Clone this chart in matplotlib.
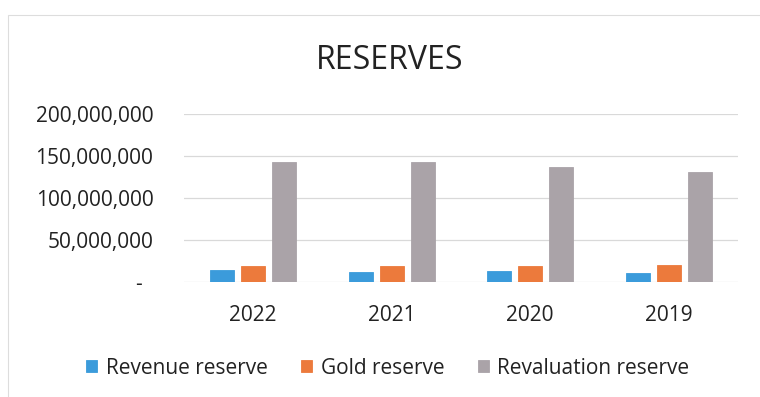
import numpy as np
import matplotlib.pyplot as plt
from matplotlib.patches import Rectangle

plt.rcParams['font.family'] = ['Open Sans', 'DejaVu Sans']

years = ['2022', '2021', '2020', '2019']
revenue = [14.5e6, 11.5e6, 12.8e6, 9.8e6]
gold = [18.8e6, 19.0e6, 19.3e6, 19.6e6]
revaluation = [142.8e6, 142.8e6, 137.0e6, 131.0e6]

series = [('Revenue reserve', revenue, '#3b9bdb'),
          ('Gold reserve', gold, '#ec7a3c'),
          ('Revaluation reserve', revaluation, '#aaa3a8')]

fig = plt.figure(figsize=(7.6, 3.97), dpi=100)
ax = fig.add_axes([0.242, 0.2904, 0.729, 0.4224])

x = np.arange(len(years))
w = 0.175
step = 0.224
for i, (name, vals, col) in enumerate(series):
    ax.bar(x + (i - 1) * step, vals, width=w, color=col, label=name,
           edgecolor=col, linewidth=0.6, zorder=3)

ax.set_xlim(-0.5, len(years) - 0.5)
ax.set_ylim(0, 200e6)
ax.set_yticks([0, 50e6, 100e6, 150e6, 200e6])
ax.yaxis.set_major_formatter(plt.FuncFormatter(
    lambda v, p: '-  ' if v == 0 else f'{int(v):,}'))
ax.set_xticks(x)
ax.set_xticklabels(years)
ax.tick_params(axis='both', length=0, labelsize=15, colors='#222222')
ax.tick_params(axis='y', pad=22)
ax.tick_params(axis='x', pad=17)
ax.grid(axis='y', color='#d9d9d9', linewidth=0.9, zorder=0)
for s in ax.spines.values():
    s.set_visible(False)

fig.text(0.513, 0.847, 'RESERVES', ha='center', va='center', fontsize=23,
         color='#222222')

handles, labels = ax.get_legend_handles_labels()
fig.legend(handles, labels, loc='center', bbox_to_anchor=(0.51, 0.073), ncol=3,
           frameon=False, fontsize=15, handlelength=0.55, handleheight=0.55,
           handletextpad=0.4, columnspacing=1.6, labelcolor='#222222')

# chart border
fig.patches.append(Rectangle((8 / 760, -0.1), 1.2, 1 - 15 / 397 + 0.1,
                             transform=fig.transFigure, fill=False,
                             edgecolor='#dddddd', linewidth=0.8))

fig.savefig('out.png', dpi=100)
